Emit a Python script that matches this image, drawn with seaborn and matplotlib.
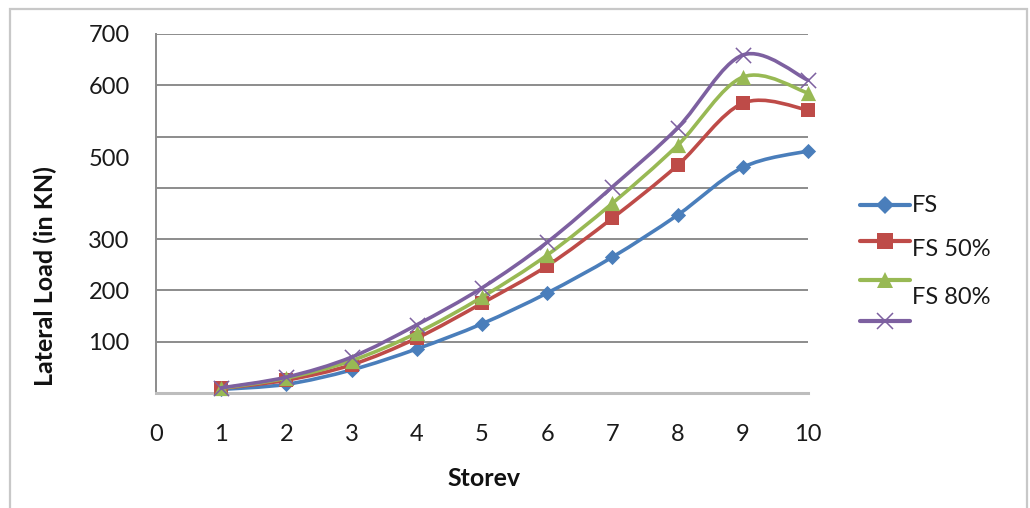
import numpy as np
import pandas as pd
import matplotlib
matplotlib.use("Agg")
import matplotlib.pyplot as plt
from matplotlib.path import Path
from matplotlib.patches import PathPatch, Rectangle
from matplotlib.lines import Line2D
import seaborn as sns

# Storey-wise lateral load (kN)
storeys = [1, 2, 3, 4, 5, 6, 7, 8, 9, 10]
fs = [7, 17, 45, 86, 135, 195, 265, 347, 440, 472]
fs_50 = [9, 25, 55, 107, 175, 248, 341, 444, 565, 552]
fs_80 = [9, 29, 63, 117, 187, 269, 370, 483, 616, 585]
fs_full = [10, 31, 70, 133, 205, 294, 402, 517, 659, 610]

series_names = ["FS", "FS 50%", "FS 80%", ""]
series_values = [fs, fs_50, fs_80, fs_full]
y_grid_values = [100, 200, 300, 400, 500, 600, 700]
y_tick_labels = ["100", "200", "300", "", "", "600", "700"]
x_tick_labels = [str(i) for i in range(11)]

colors = ["#4A7EBB", "#BE4B48", "#98B954", "#7D60A0"]
markers = ["D", "s", "^", "x"]
marker_sizes = [60, 110, 120, 120]

sns.set_theme(style="white")
plt.rcParams["font.family"] = ["Lato", "DejaVu Sans"]

W, H = 1030, 508
fig = plt.figure(figsize=(W / 100, H / 100), dpi=100)
fig.patch.set_facecolor("white")

left, right, top, bottom = 156, 808, 34, 393
ax = fig.add_axes([left / W, 1 - bottom / H, (right - left) / W, (bottom - top) / H])
ax.set_xlim(0, 10)
ax.set_ylim(0, 700)

# light outer frame of the chart area
fig.add_artist(Rectangle((10 / W, -0.02), (1027 - 10) / W, 1 - 9 / H + 0.02,
                         transform=fig.transFigure, fill=False,
                         edgecolor="#C8C8C8", lw=1.6))


def smooth_path(xs, ys):
    """Cubic Bezier path through the points (Catmull-Rom tangents)."""
    pts = np.column_stack([xs, ys]).astype(float)
    n = len(pts)
    verts = [pts[0]]
    codes = [Path.MOVETO]
    for i in range(n - 1):
        p0 = pts[i - 1] if i > 0 else pts[i]
        p1 = pts[i]
        p2 = pts[i + 1]
        p3 = pts[i + 2] if i + 2 < n else pts[i + 1]
        c1 = p1 + (p2 - p0) / 6.0
        c2 = p2 - (p3 - p1) / 6.0
        verts += [c1, c2, p2]
        codes += [Path.CURVE4] * 3
    return Path(verts, codes)


for k, (name, vals) in enumerate(zip(series_names, series_values)):
    df = pd.DataFrame({"Storey": storeys, "Load": vals})
    ax.add_patch(PathPatch(smooth_path(df["Storey"], df["Load"]), fill=False,
                           edgecolor=colors[k], lw=2.6, zorder=3 + 2 * k,
                           clip_on=False, capstyle="round", joinstyle="round"))
    if markers[k] == "x":
        sns.scatterplot(data=df, x="Storey", y="Load", marker="x",
                        color=colors[k], s=marker_sizes[k], linewidth=1.1,
                        ax=ax, zorder=4 + 2 * k, clip_on=False, legend=False)
    else:
        sns.scatterplot(data=df, x="Storey", y="Load", marker=markers[k],
                        color=colors[k], s=marker_sizes[k], linewidth=0,
                        ax=ax, zorder=4 + 2 * k, clip_on=False, legend=False)

# gridlines on every 100 kN; the "500" label sits below its gridline
ax.set_yticks(y_grid_values)
ax.set_yticklabels(y_tick_labels)
ax.set_yticks([460], minor=True)
ax.set_yticklabels(["500"], minor=True)
ax.grid(False)
ax.grid(True, which="major", axis="y", color="#8C8C8C", lw=1.4)
ax.set_xticks(range(11))
ax.set_xticklabels(x_tick_labels)

ax.tick_params(axis="y", which="both", length=0, pad=19, labelsize=17, labelcolor="#1a1a1a")
ax.tick_params(axis="x", which="both", length=0, pad=22, labelsize=17, labelcolor="#1a1a1a")

for s in ["top", "right"]:
    ax.spines[s].set_visible(False)
ax.spines["left"].set_color("#8C8C8C")
ax.spines["left"].set_linewidth(1.4)
ax.spines["bottom"].set_color("#BDBDBD")
ax.spines["bottom"].set_linewidth(2.2)

ax.set_xlabel("Storev", fontsize=18, fontweight="bold", va="center", color="#111111")
ax.xaxis.set_label_coords((484 - left) / (right - left), (bottom - 478) / (bottom - top))
ax.set_ylabel("Lateral Load (in KN)", fontsize=18, fontweight="bold", va="center", color="#111111")
ax.yaxis.set_label_coords((45 - left) / (right - left), (bottom - 276) / (bottom - top))

# legend drawn at the right of the plot
leg_line_y = [205, 241, 280, 321]
leg_text_y = [205, 249, 298, None]
for k in range(4):
    fy = 1 - leg_line_y[k] / H
    fig.add_artist(Line2D([860 / W, 910 / W], [fy, fy], transform=fig.transFigure,
                          color=colors[k], lw=3.0, marker=None))
    mk_size = {"D": 9, "s": 11, "^": 12, "x": 12}[markers[k]]
    fig.add_artist(Line2D([885 / W], [fy], transform=fig.transFigure,
                          color=colors[k], marker=markers[k], markersize=mk_size,
                          markeredgewidth=1.1 if markers[k] == "x" else 0,
                          linestyle="none"))
    if series_names[k]:
        fig.text(912 / W, 1 - leg_text_y[k] / H, series_names[k], fontsize=17,
                 ha="left", va="center", color="#1a1a1a")

fig.savefig("out.png", dpi=100, facecolor="white")
